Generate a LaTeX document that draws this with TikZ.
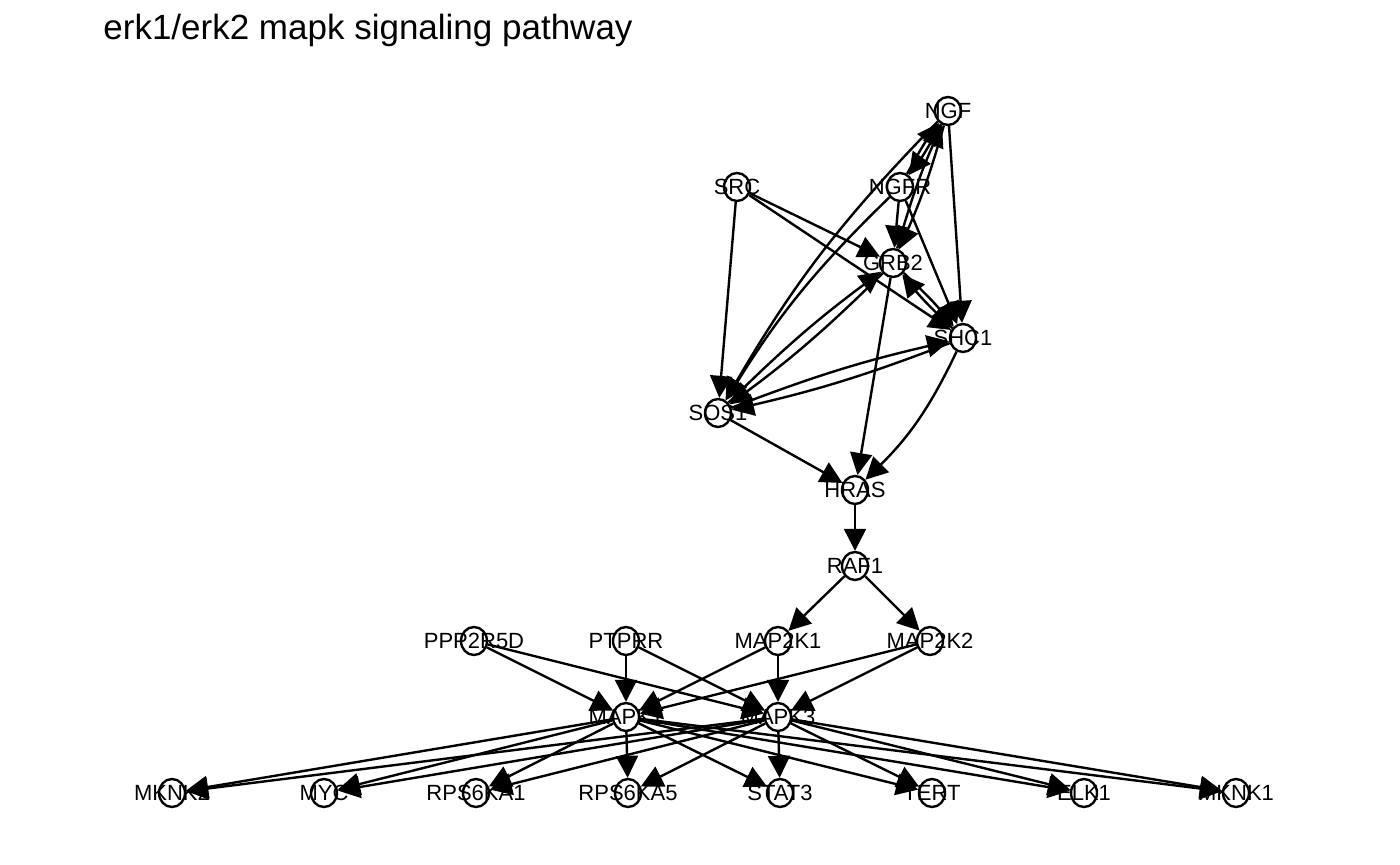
\documentclass[tikz,border=0pt]{standalone}
\usepackage{fontspec}
\setmainfont{Liberation Sans}
\usetikzlibrary{positioning,arrows.meta,shapes.geometric,backgrounds}
\begin{document}
\begin{tikzpicture}[x=0.5pt, y=-0.5pt]
    \tikzstyle{gene} = [draw, shape=ellipse, fill=white, minimum width=13pt, minimum height=14pt, inner sep=0pt, node distance=76pt, line width=1.2pt]
    \tikzstyle{genelabel} = [font=\fontsize{11}{11}\selectfont, inner sep=0pt]
    \tikzstyle{mutual} = [bend left=4]

    \useasboundingbox (0,0) rectangle (1400,865);
    \node [anchor=base west, inner sep=0pt, font=\fontsize{17.5}{17.5}\selectfont] at (103,40) (title) {erk1/erk2 mapk signaling pathway};

    \node [gene, label={[genelabel]center:NGF}] at (948,111) (ngf) {};
    \node [gene, label={[genelabel]center:SRC}] at (737,187) (src) {};
    \node [gene, label={[genelabel]center:NGFR}] at (900,187) (ngfr) {};
    \node [gene, label={[genelabel]center:GRB2}] at (893,263) (grb2) {};
    \node [gene, label={[genelabel]center:SHC1}] at (963,338) (shc1) {};
    \node [gene, label={[genelabel]center:SOS1}] at (718,413) (sos1) {};
    \node [gene, label={[genelabel]center:HRAS}] at (855,490) (hras) {};
    \node [gene, label={[genelabel]center:RAF1}, below of = hras, node distance=38pt] (raf1) {};

    \node [gene, label={[genelabel]center:PPP2R5D}] at (474,641) (ppp2r5d) {};
    \node [gene, label={[genelabel]center:PTPRR}, right of = ppp2r5d] (ptprr) {};
    \node [gene, label={[genelabel]center:MAP2K1}, right of = ptprr] (map2k1) {};
    \node [gene, label={[genelabel]center:MAP2K2}, right of = map2k1] (map2k2) {};
    \node [gene, label={[genelabel]center:MAPK1}, below of = ptprr, node distance=38pt] (mapk1) {};
    \node [gene, label={[genelabel]center:MAPK3}, right of = mapk1] (mapk3) {};

    \node [gene, label={[genelabel]center:MKNK2}] at (172,793) (mknk2) {};
    \node [gene, label={[genelabel]center:MYC}, right of = mknk2] (myc) {};
    \node [gene, label={[genelabel]center:RPS6KA1}, right of = myc] (rps6ka1) {};
    \node [gene, label={[genelabel]center:RPS6KA5}, right of = rps6ka1] (rps6ka5) {};
    \node [gene, label={[genelabel]center:STAT3}, right of = rps6ka5] (stat3) {};
    \node [gene, label={[genelabel]center:TERT}, right of = stat3] (tert) {};
    \node [gene, label={[genelabel]center:ELK1}, right of = tert] (elk1) {};
    \node [gene, label={[genelabel]center:MKNK1}, right of = elk1] (mknk1) {};

    \begin{pgfonlayer}{background}
    \begin{scope}[line width=1.2pt, >={Triangle[length=11pt, width=11pt]}]
    % receptor level
    \draw [->] (ngf) to [mutual] (ngfr);
    \draw [->] (ngfr) to [mutual] (ngf);
    \draw [->] (ngf) to [mutual] (grb2);
    \draw [->] (grb2) to [mutual] (ngf);
    \draw [->] (ngf) -- (shc1);
    \draw [->] (ngf) to [bend right=7] (sos1);
    \draw [->] (src) -- (sos1);
    \draw [->] (src) -- (grb2);
    \draw [->] (src) -- (shc1);
    \draw [->] (ngfr) -- (grb2);
    \draw [->] (ngfr) -- (shc1);
    \draw [->] (ngfr) to [bend right=7] (sos1);
    \draw [->] (grb2) to [mutual] (shc1);
    \draw [->] (shc1) to [mutual] (grb2);
    \draw [->] (sos1) to [mutual] (shc1);
    \draw [->] (shc1) to [mutual] (sos1);
    \draw [->] (sos1) to [mutual] (grb2);
    \draw [->] (grb2) to [mutual] (sos1);
    % ras / raf
    \draw [->] (grb2) -- (hras);
    \draw [->] (sos1) -- (hras);
    \draw [->] (shc1) to [bend left=10] (hras);
    \draw [->] (hras) -- (raf1);
    \draw [->] (raf1) -- (map2k1);
    \draw [->] (raf1) -- (map2k2);
    % mapk level
    \draw [->] (ppp2r5d) -- (mapk1);
    \draw [->] (ppp2r5d) -- (mapk3);
    \draw [->] (ptprr) -- (mapk1);
    \draw [->] (ptprr) -- (mapk3);
    \draw [->] (map2k1) -- (mapk1);
    \draw [->] (map2k1) -- (mapk3);
    \draw [->] (map2k2) -- (mapk1);
    \draw [->] (map2k2) -- (mapk3);
    % targets
    \draw [->] (mapk1) -- (mknk2);
    \draw [->] (mapk3) -- (mknk2);
    \draw [->] (mapk1) -- (myc);
    \draw [->] (mapk3) -- (myc);
    \draw [->] (mapk1) -- (rps6ka1);
    \draw [->] (mapk3) -- (rps6ka1);
    \draw [->] (mapk1) -- (rps6ka5);
    \draw [->] (mapk3) -- (rps6ka5);
    \draw [->] (mapk1) -- (stat3);
    \draw [->] (mapk3) -- (stat3);
    \draw [->] (mapk1) -- (tert);
    \draw [->] (mapk3) -- (tert);
    \draw [->] (mapk1) -- (elk1);
    \draw [->] (mapk3) -- (elk1);
    \draw [->] (mapk1) -- (mknk1);
    \draw [->] (mapk3) -- (mknk1);
    \end{scope}
    \end{pgfonlayer}
\end{tikzpicture}
\end{document}
